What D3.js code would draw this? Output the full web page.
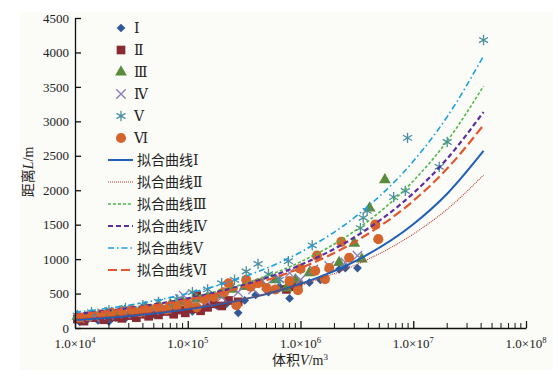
<!DOCTYPE html>
<html>
<head>
<meta charset="utf-8">
<script src="https://cdn.jsdelivr.net/npm/d3@7"></script>
<style>
  body { margin: 0; background: #fff; }
  svg text { font-family: "Liberation Serif", "DejaVu Serif", "Noto Sans CJK SC", serif !important; }
</style>
</head>
<body>
<div id="chart"></div>
<script>
// scatter data [V (m3), L (m)]
const seriesI = [[1.1e4,90],[1.3e4,130],[1.6e4,110],[2.0e4,95],[2.3e4,150],[2.8e4,140],[3.3e4,170],[4.0e4,200],[4.8e4,180],[6.0e4,230],[7.5e4,250],[9.0e4,260],[1.1e5,240],[1.4e5,300],[1.8e5,330],[2.2e5,350],[2.8e5,220],[3.2e5,400],[4.0e5,480],[5.2e5,520],[6.5e5,600],[8.0e5,430],[9.0e5,640],[1.2e6,660],[1.5e6,700],[2.2e6,850],[2.5e6,870],[3.2e6,870]];
const seriesII = [[1.05e4,130],[1.2e4,100],[1.5e4,150],[1.8e4,120],[2.2e4,160],[2.6e4,140],[3.0e4,180],[3.5e4,150],[4.0e4,200],[4.5e4,170],[5.0e4,220],[5.5e4,190],[6.5e4,240],[7.5e4,200],[8.5e4,260],[9.5e4,220],[1.1e5,280],[1.2e5,470],[1.3e5,250],[1.5e5,300],[1.7e5,350],[2.0e5,320],[2.3e5,400],[2.8e5,380],[7.5e5,560],[8.5e5,600],[9.5e5,640]];
const seriesIII = [[1.05e4,170],[1.4e4,180],[1.9e4,210],[2.5e4,230],[3.2e4,250],[4.2e4,300],[5.5e4,330],[7e4,340],[9e4,380],[1.2e5,420],[1.5e5,450],[1.9e5,480],[2.5e5,560],[3.2e5,600],[4.5e5,650],[6e5,700],[7.5e5,580],[9e5,700],[1.2e6,800],[2.2e6,950],[3.0e6,1230],[3.5e6,1000],[4.1e6,1740],[5.6e6,2150]];
const seriesIV = [[1.1e4,140],[1.5e4,160],[2e4,190],[2.8e4,210],[3.8e4,240],[5e4,260],[6.5e4,280],[8.5e4,420],[9.2e4,470],[1.1e5,350],[1.5e5,380],[2e5,450],[2.8e5,520],[3.8e5,560],[5e5,620],[6.5e5,720],[8e5,800],[1.0e6,700],[1.3e6,850],[1.8e6,900],[2.5e6,950],[3.2e6,1050]];
const seriesV = [[1.05e4,180],[1.4e4,230],[2e4,260],[2.8e4,290],[4e4,330],[5.5e4,380],[8e4,420],[1.1e5,520],[1.5e5,560],[2.0e5,650],[2.6e5,700],[3.3e5,820],[4.2e5,930],[5.2e5,780],[6.5e5,700],[7.8e5,970],[1.0e6,850],[1.27e6,1200],[3.4e6,1450],[3.6e6,1600],[3.9e6,1700],[6.7e6,1900],[8.5e6,1990],[8.9e6,2760],[1.7e7,2340],[2.0e7,2700],[4.2e7,4180]];
const seriesVI = [[1.1e4,150],[1.3e4,170],[1.7e4,200],[2.1e4,220],[2.6e4,240],[3.2e4,260],[3.8e4,230],[4.5e4,280],[5.5e4,300],[6.5e4,270],[8e4,320],[1e5,350],[1.2e5,300],[1.4e5,420],[1.7e5,450],[2.1e5,520],[2.3e5,650],[2.7e5,330],[3.3e5,700],[3.6e5,600],[4.2e5,650],[5e5,580],[6e5,560],[8e5,680],[9.5e5,550],[1.0e6,860],[1.35e6,830],[1.4e6,1050],[1.65e6,710],[1.8e6,870],[2.3e6,1250],[2.7e6,1020],[4.6e6,1500],[4.9e6,1290]];

const fitV = [1e4, 3.16e4, 1e5, 3.16e5, 1e6, 3.16e6, 1e7, 2e7, 4.2e7];
const fitI = [115, 177, 271, 416, 639, 981, 1506, 1949, 2570];
const fitII = [131, 194, 286, 423, 625, 923, 1363, 1724, 2220];
const fitIII = [194, 289, 431, 643, 960, 1431, 2134, 2714, 3512];
const fitIV = [201, 294, 429, 627, 915, 1338, 1956, 2458, 3135];
const fitV5 = [228, 338, 501, 743, 1100, 1632, 2420, 3067, 3948];
const fitVI = [194, 282, 411, 598, 870, 1267, 1845, 2314, 2946];

const yTicks = [0, 500, 1000, 1500, 2000, 2500, 3000, 3500, 4000, 4500];
const xTicks = [1e4, 1e5, 1e6, 1e7, 1e8];
const xExps = ['4', '5', '6', '7', '8'];
const names = ['Ⅰ', 'Ⅱ', 'Ⅲ', 'Ⅳ', 'Ⅴ', 'Ⅵ'];

const FONT = '"Liberation Serif", "DejaVu Serif", "Noto Sans CJK SC", serif';
const width = 558, height = 380;
const svg = d3.select('#chart').append('svg')
  .attr('width', width).attr('height', height)
  .attr('font-family', FONT);

svg.append('rect').attr('x', 20).attr('y', 12).attr('width', 533).attr('height', 358)
  .attr('fill', '#fbfbf8');

const x = d3.scaleLog().domain([1e4, 1e8]).range([75, 526]);
const y = d3.scaleLinear().domain([0, 4500]).range([328, 18]);

const markers = [
  { data: seriesI, sym: d3.symbolSquare, rot: 45, size: 38, color: '#2f5a97', fill: true },
  { data: seriesII, sym: d3.symbolSquare, rot: 0, size: 75, color: '#8a2b33', fill: true },
  { data: seriesIII, sym: d3.symbolTriangle, rot: 0, size: 60, color: '#5a8a3c', fill: true },
  { data: seriesIV, sym: d3.symbolTimes, rot: 0, size: 60, color: '#8a7ab8', fill: false },
  { data: seriesV, sym: d3.symbolAsterisk, rot: 0, size: 75, color: '#4a8fa0', fill: false },
  { data: seriesVI, sym: d3.symbolCircle, rot: 0, size: 80, color: '#d4652c', fill: true }
];

const fits = [
  { vals: fitI, color: '#1f5fb5', dash: null, w: 2 },
  { vals: fitII, color: '#c0392b', dash: '1,1', w: 1.1 },
  { vals: fitIII, color: '#4db848', dash: '3,2', w: 1.6 },
  { vals: fitIV, color: '#5b2d9e', dash: '5,3', w: 2.2 },
  { vals: fitV5, color: '#1aa0e0', dash: '6,3,1.5,3', w: 1.6 },
  { vals: fitVI, color: '#e4572e', dash: '9,4', w: 2.2 }
];

const plotG = svg.append('g');
markers.forEach(m => {
  const path = d3.symbol().type(m.sym).size(m.size)();
  plotG.selectAll(null).data(m.data).enter().append('path')
    .attr('d', path)
    .attr('transform', d => `translate(${x(d[0])},${y(d[1])}) rotate(${m.rot})`)
    .attr('fill', m.fill ? m.color : 'none')
    .attr('stroke', m.fill ? 'none' : m.color)
    .attr('stroke-width', 1.3);
});

const line = d3.line().x(d => x(d[0])).y(d => y(d[1])).curve(d3.curveMonotoneX);
fits.forEach(f => {
  plotG.append('path')
    .attr('d', line(fitV.map((v, i) => [v, f.vals[i]])))
    .attr('fill', 'none')
    .attr('stroke', f.color)
    .attr('stroke-width', f.w)
    .attr('stroke-dasharray', f.dash);
});

// axes
svg.append('g')
  .attr('transform', 'translate(75,0)')
  .call(d3.axisLeft(y).tickValues(yTicks).tickFormat(d3.format('d'))
    .tickSizeInner(-6).tickSizeOuter(0).tickPadding(6))
  .call(g => g.attr('font-family', FONT))
  .call(g => g.selectAll('text').style('font-size', '13px').attr('fill', '#222'))
  .call(g => g.selectAll('line,path').attr('stroke', '#111').attr('stroke-width', 1.3));

const xAxisG = svg.append('g')
  .attr('transform', 'translate(0,328)')
  .call(d3.axisBottom(x).tickValues(xTicks).tickSizeInner(-7).tickSizeOuter(0).tickFormat(''))
  .call(g => g.attr('font-family', FONT))
  .call(g => g.selectAll('line,path').attr('stroke', '#111').attr('stroke-width', 1.3));

const minor = [];
for (let e = 4; e < 8; e++) for (let k = 2; k < 10; k++) minor.push(k * Math.pow(10, e));
xAxisG.selectAll('.minor').data(minor).enter().append('line')
  .attr('x1', d => x(d)).attr('x2', d => x(d))
  .attr('y1', 0).attr('y2', -5)
  .attr('stroke', '#111').attr('stroke-width', 1);

const xl = xAxisG.selectAll('.xl').data(xTicks).enter().append('text')
  .attr('x', d => x(d)).attr('y', 20)
  .attr('text-anchor', 'middle')
  .style('font-size', '13px').attr('fill', '#222');
xl.append('tspan').text('1.0×10');
xl.append('tspan').text((d, i) => xExps[i]).attr('dy', -5).style('font-size', '8.5px');

// axis titles
const yt = svg.append('text')
  .attr('transform', 'translate(33,172) rotate(-90)')
  .attr('text-anchor', 'middle')
  .style('font-size', '14px').attr('fill', '#222');
yt.append('tspan').text('距离');
yt.append('tspan').text('L').style('font-style', 'italic');
yt.append('tspan').text('/m');

const xt = svg.append('text')
  .attr('x', 300).attr('y', 365)
  .attr('text-anchor', 'middle')
  .style('font-size', '14px').attr('fill', '#222');
xt.append('tspan').text('体积');
xt.append('tspan').text('V').style('font-style', 'italic');
xt.append('tspan').text('/m');
xt.append('tspan').text('3').attr('dy', -5).style('font-size', '9px');

// legend
const lg = svg.append('g');
markers.forEach((m, i) => {
  const ly = 28 + i * 22;
  lg.append('path')
    .attr('d', d3.symbol().type(m.sym).size(m.size)())
    .attr('transform', `translate(121,${ly}) rotate(${m.rot})`)
    .attr('fill', m.fill ? m.color : 'none')
    .attr('stroke', m.fill ? 'none' : m.color)
    .attr('stroke-width', 1.3);
  lg.append('text').attr('x', 134).attr('y', ly + 5)
    .style('font-size', '14px').attr('fill', '#222').text(names[i]);
});
fits.forEach((f, i) => {
  const ly = 160 + i * 22;
  lg.append('line')
    .attr('x1', 108).attr('x2', 133).attr('y1', ly).attr('y2', ly)
    .attr('stroke', f.color).attr('stroke-width', f.w)
    .attr('stroke-dasharray', f.dash);
  lg.append('text').attr('x', 137).attr('y', ly + 5)
    .style('font-size', '14px').attr('fill', '#222').text('拟合曲线' + names[i]);
});
</script>
</body>
</html>
